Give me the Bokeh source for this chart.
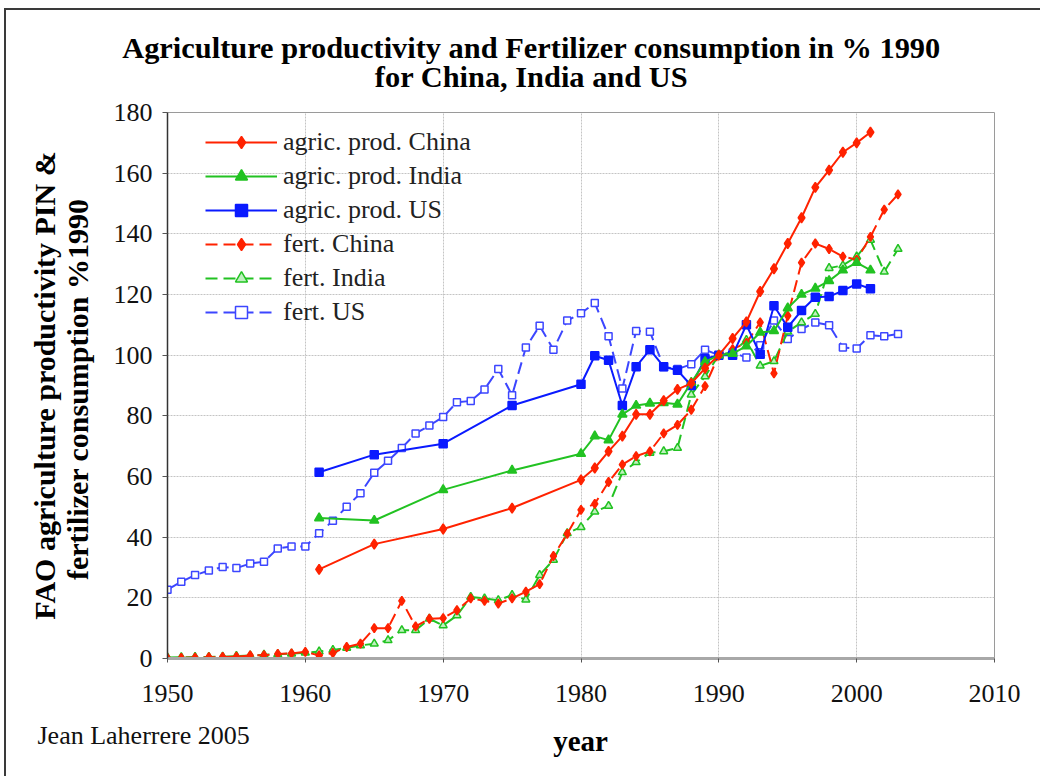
from bokeh.plotting import figure
from bokeh.layouts import column
from bokeh.models import Legend, LegendItem, FixedTicker, ColumnDataSource, Label
from bokeh.embed import file_html
from bokeh.resources import INLINE

# ---------------- data ----------------
agric_years = [1961, 1965, 1970, 1975, 1980, 1981, 1982, 1983, 1984, 1985, 1986, 1987,
               1988, 1989, 1990, 1991, 1992, 1993, 1994, 1995, 1996, 1997, 1998, 1999,
               2000, 2001]
agric_china = [29.4, 37.7, 42.7, 49.6, 58.9, 62.8, 68.3, 73.3, 80.5, 80.5, 85.0, 88.7,
               90.7, 95.7, 100.0, 105.5, 111.0, 121.0, 128.5, 136.8, 145.3, 155.3, 161.0,
               166.9, 170.0, 173.5]
agric_india = [46.3, 45.5, 55.6, 62.0, 67.5, 73.3, 72.0, 80.5, 83.4, 84.1, 84.3, 83.8,
               91.0, 97.8, 100.0, 100.5, 103.0, 107.5, 108.0, 115.5, 120.0, 122.0, 124.5,
               128.0, 130.5, 128.0]
agric_us = [61.4, 67.2, 70.8, 83.4, 90.4, 99.8, 98.3, 83.4, 96.2, 101.8, 96.2, 95.0,
            90.0, 98.8, 100.0, 100.0, 110.0, 100.3, 116.3, 109.2, 114.7, 119.1, 119.3,
            121.3, 123.5, 121.9]

fert_years = list(range(1950, 2004))
fert_china = [0.1, 0.2, 0.3, 0.4, 0.5, 0.6, 1.0, 1.1, 1.5, 1.7,
              2.2, 1.0, 1.8, 3.8, 4.9, 10.0, 10.0, 19.0, 10.6, 13.1,
              13.3, 15.9, 19.8, 19.0, 18.1, 19.8, 22.0, 24.5, 33.8, 41.1,
              49.0, 51.0, 58.2, 63.9, 66.7, 68.3, 74.2, 77.0, 82.0, 89.8,
              100.0, 102.0, 104.0, 110.8, 94.0, 113.0, 130.5, 136.8, 135.0, 132.5,
              131.5, 139.0, 148.0, 153.0]
fert_india = [0.3, 0.4, 0.5, 0.5, 0.6, 0.8, 1.0, 1.2, 1.4, 1.6,
              1.9, 2.3, 2.8, 3.5, 4.3, 4.9, 6.0, 9.3, 9.3, 13.1,
              10.9, 14.2, 20.3, 19.8, 19.2, 20.9, 19.4, 27.5, 32.5, 41.3,
              43.3, 48.4, 50.3, 61.4, 64.7, 67.8, 68.3, 69.4, 87.0, 93.0,
              100.0, 101.0, 105.0, 96.5, 98.0, 107.7, 110.8, 113.6, 128.7, 129.6,
              132.5, 138.0, 127.5, 135.0]
fert_us = [22.7, 25.3, 27.5, 29.0, 30.2, 29.8, 31.3, 31.9, 36.3, 36.9,
           36.9, 41.3, 45.4, 50.0, 54.5, 61.2, 65.2, 69.4, 74.2, 76.8,
           79.6, 84.5, 84.9, 88.7, 95.4, 86.8, 102.5, 109.7, 101.8, 111.4,
           113.8, 117.2, 106.2, 89.0, 108.0, 107.7, 96.1, 95.4, 97.0, 101.8,
           100.0, 100.9, 99.2, 103.3, 111.4, 105.3, 108.6, 110.8, 109.9, 102.5,
           102.2, 106.6, 106.2, 107.0]

x_ticks = [1950, 1960, 1970, 1980, 1990, 2000, 2010]
y_ticks = [0, 20, 40, 60, 80, 100, 120, 140, 160, 180]

series_labels = ["agric. prod. China", "agric. prod. India", "agric. prod. US",
                 "fert. China", "fert. India", "fert. US"]

title1 = "Agriculture productivity and Fertilizer consumption in % 1990"
title2 = "for China, India and US"
y_label = "FAO agriculture productivity PIN &\nfertilizer consumption  %1990"
x_label = "year"
credit = "Jean Laherrere 2005"

# ---------------- styling ----------------
FONT = "Liberation Serif"
RED = "#ff2200"
GREEN = "#22c222"
BLUE = "#0a1aff"
BLUE_L = "#3c46ff"
W = 1034


def text_strip(height):
    f = figure(width=W, height=height, x_range=(0, 1), y_range=(0, 1),
               x_axis_location=None, y_axis_location=None, min_border=0,
               output_backend="svg", toolbar_location=None)
    f.frame_align = False
    f.title.visible = False
    f.grid.visible = False
    f.outline_line_color = None
    f.background_fill_color = "white"
    f.border_fill_color = "white"
    return f


def lab(f, text, x, y, size, bold=True, align="center", color="#000000"):
    f.add_layout(Label(x=x, y=y, x_units="screen", y_units="screen", text=text,
                       text_font=FONT, text_font_size=size,
                       text_font_style="bold" if bold else "normal",
                       text_align=align, text_baseline="middle",
                       text_color=color))


# ---- top strip: title ----
top = text_strip(85)
lab(top, title1, 525, 48, "30.4px")
lab(top, title2, 525, 19, "30.4px")

# ---- main chart ----
p = figure(width=W, height=623, x_range=(1950, 2010), y_range=(0, 180),
           output_backend="svg", toolbar_location=None,
           min_border_left=161, min_border_right=46, min_border_top=17,
           min_border_bottom=60)
p.frame_align = False
p.title.visible = False
p.background_fill_color = "white"
p.border_fill_color = "white"
p.outline_line_color = "#9a9a9a"
p.outline_line_width = 1

p.xaxis.ticker = FixedTicker(ticks=x_ticks)
p.yaxis.ticker = FixedTicker(ticks=y_ticks)
p.xgrid.ticker = FixedTicker(ticks=x_ticks)
p.ygrid.ticker = FixedTicker(ticks=y_ticks)
for g in (p.xgrid, p.ygrid):
    g.grid_line_color = "#c4c4c4"
    g.grid_line_width = 1
    g.grid_line_dash = "2 1"

for ax in (p.xaxis, p.yaxis):
    ax.major_label_text_font = FONT
    ax.major_label_text_font_size = "26px"
    ax.major_label_text_color = "#111111"
    ax.minor_tick_line_color = None
    ax.major_tick_in = 0
    ax.major_tick_line_color = "#555555"

p.xaxis.axis_line_color = "#a8a8a8"
p.xaxis.axis_line_width = 3
p.xaxis.major_tick_out = 4
p.xaxis.major_label_standoff = 22

p.yaxis.axis_line_color = "#333333"
p.yaxis.axis_line_width = 1.5
p.yaxis.major_tick_out = 5
p.yaxis.major_label_standoff = 10
p.yaxis.axis_label = y_label
p.yaxis.axis_label_text_font = FONT
p.yaxis.axis_label_text_font_style = "bold"
p.yaxis.axis_label_text_font_size = "30px"
p.yaxis.axis_label_text_line_height = 1.0
p.yaxis.axis_label_text_color = "#000000"
p.yaxis.axis_label_standoff = 17


def add(x, y, color, marker, dash, fill, size):
    src = ColumnDataSource(dict(x=x, y=y))
    r1 = p.line("x", "y", source=src, line_color=color, line_width=2,
                line_dash=dash)
    r2 = p.scatter("x", "y", source=src, marker=marker, size=size,
                   line_color=color, fill_color=fill, line_width=1.5)
    return [r1, r2]


rs = []
rs.append(add(fert_years, fert_us, BLUE_L, "square", "12 6", "white", 7))
rs.append(add(fert_years, fert_india, GREEN, "triangle", "12 6", "#bff0bf", 8))
rs.append(add(fert_years, fert_china, RED, "diamond", "12 6", RED, 9))
rs.append(add(agric_years, agric_us, BLUE, "square", "solid", BLUE, 8))
rs.append(add(agric_years, agric_india, GREEN, "triangle", "solid", GREEN, 9))
rs.append(add(agric_years, agric_china, RED, "diamond", "solid", RED, 10))

order = [5, 4, 3, 2, 1, 0]
items = [LegendItem(label=series_labels[i], renderers=rs[order[i]]) for i in range(6)]
legend = Legend(items=items, location=(38, 331), orientation="vertical",
                background_fill_alpha=0, border_line_color=None,
                padding=0, margin=0, spacing=4, glyph_width=72, glyph_height=30,
                label_height=30, label_standoff=6, label_text_font=FONT,
                label_text_font_size="26px", label_text_color="#222222")
p.add_layout(legend, "center")

# ---- bottom strip: x-axis title and credit ----
bottom = text_strip(58)
lab(bottom, x_label, 574, 36, "29px")
lab(bottom, credit, 31, 41, "26px", bold=False, align="left", color="#111111")

layout = column(top, p, bottom, spacing=0)
layout.styles = {"border-left": "2px solid #3a3a3a", "border-top": "2px solid #3a3a3a",
                 "margin-left": "4px", "margin-top": "8px"}

open("out.html", "w").write(file_html(layout, INLINE))
